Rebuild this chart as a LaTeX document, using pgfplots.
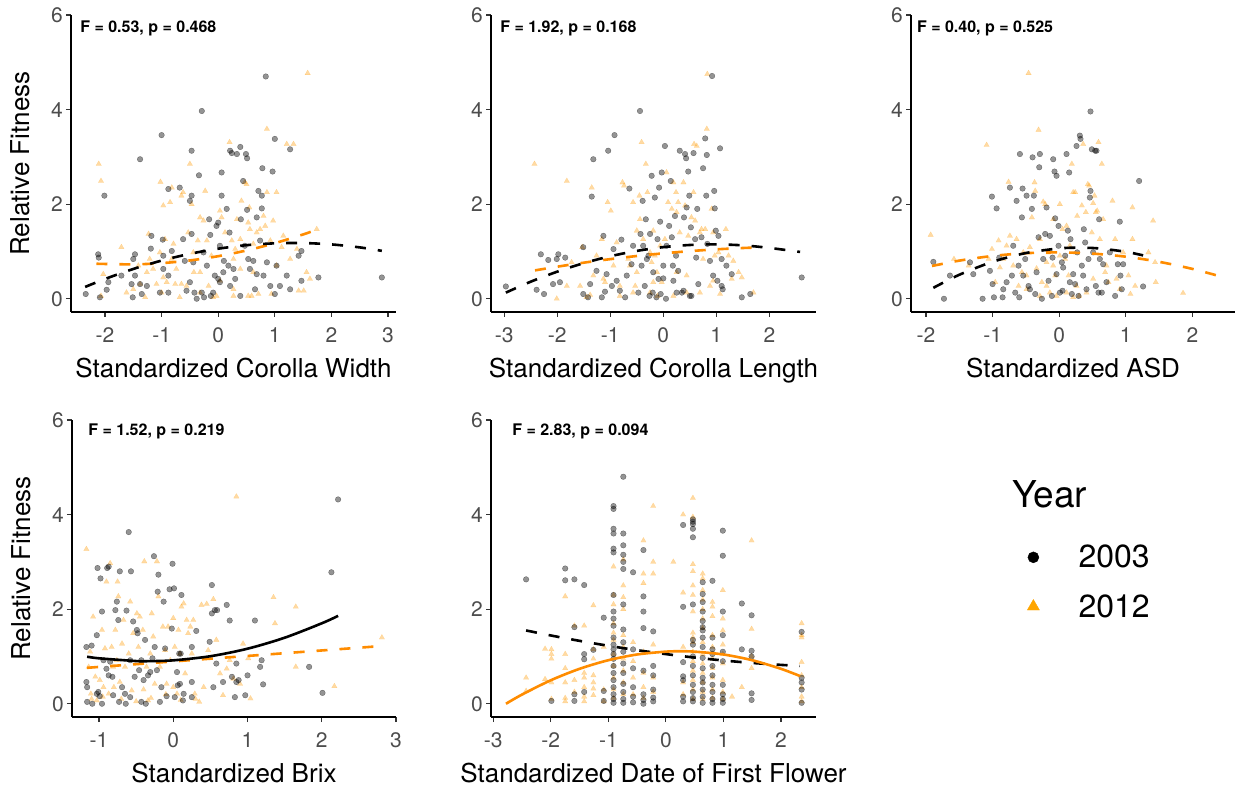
\documentclass[border=0pt]{standalone}
\usepackage{fontspec}
\setmainfont{TeX Gyre Heros}
\usepackage{pgfplots}
\pgfplotsset{compat=1.18}
\definecolor{g30}{RGB}{77,77,77}
\definecolor{org}{RGB}{255,153,0}
\definecolor{orl}{RGB}{255,140,0}
\definecolor{orleg}{RGB}{255,165,0}
\newcommand{\ticksize}{\fontsize{21}{21}\selectfont}
\newcommand{\labsize}{\fontsize{26}{26}\selectfont}
\newcommand{\annsize}{\fontsize{16}{16}\selectfont\bfseries}
\pgfplotsset{
  panel/.style={
    scale only axis, width=325pt, height=297pt, clip mode=individual,
    axis x line*=bottom, axis y line*=left,
    axis line style={line width=1.6pt, black, -},
    ymin=-0.28, ymax=6, ytick={0,2,4,6}, yticklabels={0,2,4,6},
    tick align=outside, major tick length=5pt,
    every tick/.style={line width=1.2pt, black!80},
    ticklabel style={font=\ticksize, text=g30},
    yticklabel style={inner sep=0pt, xshift=-3pt},
    xticklabel style={inner sep=0pt, yshift=-10pt},
    label style={font=\labsize},
    xlabel style={at={(axis description cs:0.5,-0.222)}, anchor=base, inner sep=0pt},
    ylabel style={at={(axis description cs:-0.129,0.5)}, anchor=base, inner sep=0pt},
  },
  b03/.style={only marks, mark=*, mark size=2.8pt, mark options={fill=black, draw=black, fill opacity=0.42, draw opacity=0.5, line width=0.3pt}, forget plot},
  o12/.style={only marks, color=org, mark=triangle*, mark size=3.2pt, mark options={fill=org, draw=org, fill opacity=0.36, draw opacity=0.36, line width=0.1pt}, forget plot},
  bdash/.style={no marks, smooth, black, line width=2.6pt, dash pattern=on 11pt off 12pt, forget plot},
  odash/.style={no marks, smooth, orl, line width=2.6pt, dash pattern=on 11pt off 12pt, forget plot},
  bsolid/.style={no marks, smooth, black, line width=2.6pt, forget plot},
  osolid/.style={no marks, smooth, orl, line width=2.6pt, forget plot},
}
\begin{document}
\begin{tikzpicture}
\path[use as bounding box] (0,0) rectangle (1242pt,790pt);
% ---------------- Panel 1
\begin{axis}[panel, at={(71pt,478pt)}, anchor=south west,
  xmin=-2.60, xmax=3.14, xtick={-2,-1,0,1,2,3}, xticklabels={-2,-1,0,1,2,3},
  xlabel={Standardized Corolla Width}, ylabel={Relative Fitness}]
\addplot[o12] coordinates {(-2.11,2.85)(-2.07,2.49)(-2.07,0.06)(-2.03,0.52)(-1.71,1.09)(-1.62,0.13)(-1.50,0.20)(-1.41,0.70)(-1.38,0.31)(-1.29,0.03)(-1.23,1.37)(-1.21,0.84)(-1.15,0.63)(-1.09,0.31)(-1.02,2.47)(-1.00,0.13)(-0.97,1.97)(-0.94,1.26)(-0.91,0.35)(-0.85,2.04)(-0.82,2.35)(-0.79,1.16)(-0.76,0.31)(-0.74,0.63)(-0.68,0.03)(-0.65,2.18)(-0.62,2.25)(-0.53,1.40)(-0.50,2.85)(-0.47,2.00)(-0.44,0.98)(-0.43,0.56)(-0.36,1.23)(-0.32,1.72)(-0.26,1.65)(-0.23,2.28)(-0.20,1.23)(-0.17,0.27)(-0.12,0.91)(-0.09,0.03)(0.03,1.86)(0.06,1.72)(0.12,1.40)(0.20,3.31)(0.24,1.23)(0.27,0.20)(0.30,1.05)(0.33,1.68)(0.39,0.63)(0.41,2.07)(0.47,2.46)(0.50,2.42)(0.53,1.61)(0.55,1.93)(0.56,1.47)(0.59,0.06)(0.62,1.16)(0.68,1.40)(0.71,0.10)(0.74,1.47)(0.80,1.75)(0.83,1.54)(0.86,3.59)(0.86,2.25)(0.92,1.23)(0.94,0.10)(0.97,1.65)(1.03,2.25)(1.03,0.70)(1.12,1.09)(1.15,1.33)(1.21,3.27)(1.27,0.84)(1.33,3.27)(1.39,1.05)(1.42,0.17)(1.51,0.17)(1.56,0.56)(1.58,4.77)(1.62,0.42)(1.74,1.47)(-1.26,0.56)(-1.03,0.98)(-0.82,0.84)(-0.56,0.27)(-0.32,0.13)(-0.03,0.06)(0.27,0.06)(0.53,0.06)(0.03,0.38)(-0.32,0.56)(0.27,0.84)(0.62,0.56)(0.39,1.26)(-0.97,0.45)(-0.65,0.31)};
\addplot[b03] coordinates {(-2.34,0.10)(-2.12,0.94)(-2.11,0.87)(-2.01,2.18)(-2.09,0.03)(-1.97,0.19)(-1.94,0.35)(-1.71,0.49)(-1.53,0.31)(-1.51,0.03)(-1.47,0.94)(-1.50,0.84)(-1.38,2.95)(-1.47,0.49)(-1.38,0.31)(-1.35,0.10)(-1.26,0.27)(-1.19,1.06)(-1.18,1.33)(-1.00,3.46)(-0.98,1.25)(-0.97,0.91)(-1.03,0.13)(-0.97,0.63)(-0.88,0.49)(-0.88,2.32)(-0.88,0.13)(-0.82,1.01)(-0.68,2.35)(-0.62,1.26)(-0.59,0.80)(-0.56,0.17)(-0.50,0.35)(-0.50,2.07)(-0.47,2.18)(-0.47,3.13)(-0.47,1.37)(-0.44,0.77)(-0.42,0.13)(-0.38,0.00)(-0.34,2.61)(-0.29,3.97)(-0.29,0.13)(-0.26,0.98)(-0.25,0.03)(-0.20,0.70)(-0.16,1.68)(-0.14,1.35)(-0.13,0.06)(-0.09,0.13)(-0.06,0.49)(-0.03,1.54)(0.00,1.61)(0.00,0.42)(0.03,0.35)(0.03,1.12)(0.06,2.67)(0.06,2.18)(0.09,0.56)(0.10,0.80)(0.15,1.90)(0.18,0.70)(0.20,1.40)(0.21,0.27)(0.21,3.13)(0.24,3.08)(0.27,0.63)(0.30,0.42)(0.33,3.06)(0.39,3.21)(0.40,1.68)(0.39,0.06)(0.44,2.49)(0.47,1.12)(0.49,3.06)(0.51,2.97)(0.51,1.88)(0.53,0.84)(0.56,0.63)(0.62,0.80)(0.65,0.20)(0.68,1.72)(0.68,0.52)(0.71,2.28)(0.74,1.23)(0.77,1.91)(0.77,2.18)(0.78,2.76)(0.84,4.70)(0.80,0.49)(0.86,0.77)(0.92,0.27)(0.96,2.69)(1.00,3.38)(1.00,0.10)(1.03,0.70)(1.09,0.27)(1.27,0.20)(1.21,0.49)(1.27,3.16)(1.42,0.91)(1.47,1.01)(1.47,0.38)(1.77,0.45)(2.89,0.45)};
\addplot[odash] coordinates {(-2.15,0.740)(-1.5,0.727)(-1.0,0.753)(-0.5,0.810)(0,0.900)(0.5,1.021)(1.0,1.175)(1.5,1.360)(1.74,1.460)};
\addplot[bdash] coordinates {(-2.35,0.25)(-2.0,0.418)(-1.5,0.630)(-1.0,0.807)(-0.5,0.950)(0,1.058)(0.5,1.133)(1.0,1.172)(1.5,1.178)(2.0,1.149)(2.5,1.086)(2.89,1.013)};
\node[anchor=west, inner sep=0pt, font=\annsize] at (axis description cs:0.028,0.955) {F = 0.53, p = 0.468};
\end{axis}
% ---------------- Panel 2
\begin{axis}[panel, at={(491pt,478pt)}, anchor=south west,
  xmin=-3.25, xmax=2.88, xtick={-3,-2,-1,0,1,2}, xticklabels={-3,-2,-1,0,1,2},
  xlabel={Standardized Corolla Length}]
\addplot[o12] coordinates {(-2.43,2.85)(-2.01,0.00)(-1.82,2.49)(-1.82,0.27)(-1.73,0.77)(-1.57,0.27)(-1.53,1.09)(-1.45,0.03)(-1.38,0.08)(-1.35,2.35)(-1.32,0.49)(-1.26,0.91)(-1.16,1.26)(-1.10,0.35)(-1.05,2.04)(-0.99,1.86)(-0.94,0.70)(-0.88,1.19)(-0.82,0.06)(-0.77,2.46)(-0.74,2.39)(-0.66,0.84)(-0.63,0.70)(-0.57,2.04)(-0.53,0.27)(-0.50,1.44)(-0.45,2.18)(-0.44,1.68)(-0.41,3.31)(-0.38,1.26)(-0.33,2.85)(-0.30,2.25)(-0.25,0.98)(-0.22,0.77)(-0.19,1.44)(-0.16,0.91)(-0.11,0.06)(-0.06,1.12)(-0.03,0.35)(0.03,1.26)(0.06,2.67)(0.09,2.04)(0.16,1.90)(0.19,2.46)(0.24,2.25)(0.25,1.83)(0.28,2.04)(0.31,1.40)(0.38,2.46)(0.41,1.97)(0.44,0.49)(0.47,1.33)(0.53,1.72)(0.57,2.25)(0.58,3.27)(0.60,1.65)(0.63,3.23)(0.69,1.40)(0.72,1.47)(0.75,0.84)(0.79,1.47)(0.82,3.59)(0.83,4.75)(0.88,0.27)(0.91,1.90)(0.94,1.40)(0.97,0.91)(1.04,0.98)(1.07,0.10)(1.18,1.47)(1.23,0.91)(1.29,0.42)(1.32,0.80)(1.42,0.56)(1.48,0.45)(1.70,0.13)(-0.82,0.27)(-0.57,0.13)(-0.25,0.13)(0.19,0.06)(0.44,0.13)(0.69,0.13)(0.94,0.38)(-0.50,0.56)(-0.12,0.56)(0.25,0.56)(-1.13,0.42)(-0.19,0.35)};
\addplot[b03] coordinates {(-2.97,0.26)(-2.39,0.19)(-2.31,0.94)(-2.25,0.10)(-2.17,0.82)(-2.08,0.31)(-2.01,0.84)(-1.98,0.94)(-1.95,0.35)(-1.85,0.87)(-1.51,1.09)(-1.51,0.10)(-1.42,0.03)(-1.38,0.31)(-1.35,2.16)(-1.32,2.95)(-1.26,0.59)(-1.16,0.03)(-1.13,1.33)(-1.10,0.15)(-1.07,0.52)(-1.04,3.13)(-0.97,0.27)(-0.94,1.05)(-0.92,3.46)(-0.88,0.38)(-0.82,0.17)(-0.79,1.25)(-0.72,0.03)(-0.69,0.49)(-0.64,2.33)(-0.60,0.73)(-0.57,1.12)(-0.47,0.13)(-0.44,3.97)(-0.43,1.37)(-0.41,0.70)(-0.39,2.07)(-0.38,1.12)(-0.35,0.27)(-0.33,1.68)(-0.31,0.84)(-0.28,0.91)(-0.26,0.06)(-0.25,1.37)(-0.22,2.60)(-0.20,0.13)(-0.19,0.56)(-0.16,2.14)(-0.13,0.03)(-0.11,1.26)(-0.09,0.42)(-0.08,2.35)(-0.06,1.63)(-0.05,0.10)(-0.03,2.67)(0.00,0.70)(0.00,0.43)(0.03,3.23)(0.05,0.00)(0.06,1.12)(0.11,1.54)(0.14,2.49)(0.16,1.30)(0.18,0.70)(0.19,0.38)(0.22,1.75)(0.24,0.91)(0.25,0.13)(0.28,0.59)(0.31,3.13)(0.35,0.13)(0.38,0.17)(0.39,1.72)(0.41,3.06)(0.43,2.97)(0.44,1.93)(0.47,2.69)(0.49,2.18)(0.50,0.06)(0.52,1.51)(0.53,0.06)(0.57,3.08)(0.60,1.26)(0.62,0.87)(0.64,1.90)(0.66,0.31)(0.72,1.30)(0.75,2.76)(0.79,3.39)(0.81,2.18)(0.82,3.04)(0.83,1.16)(0.88,0.80)(0.92,4.71)(0.94,0.49)(0.96,2.28)(0.97,1.91)(0.99,1.44)(1.02,0.38)(1.04,1.33)(1.07,3.18)(1.10,0.84)(1.10,0.27)(1.12,0.20)(1.19,0.70)(1.29,0.52)(1.48,0.03)(1.64,0.10)(2.61,0.45)};
\addplot[odash] coordinates {(-2.42,0.600)(-2.0,0.678)(-1.5,0.763)(-1.0,0.838)(-0.5,0.904)(0,0.960)(0.5,1.007)(1.0,1.045)(1.5,1.073)(1.67,1.080)};
\addplot[bdash] coordinates {(-2.97,0.130)(-2.5,0.361)(-2.0,0.573)(-1.5,0.753)(-1.0,0.899)(-0.5,1.012)(0,1.091)(0.5,1.137)(1.0,1.150)(1.5,1.129)(2.0,1.075)(2.58,0.990)};
\node[anchor=west, inner sep=0pt, font=\annsize] at (axis description cs:0.028,0.955) {F = 1.92, p = 0.168};
\end{axis}
% ---------------- Panel 3
\begin{axis}[panel, at={(911pt,478pt)}, anchor=south west, width=324pt,
  xmin=-2.225, xmax=2.64, xtick={-2,-1,0,1,2}, xticklabels={-2,-1,0,1,2},
  xlabel={Standardized ASD}]
\addplot[o12] coordinates {(-1.93,1.35)(-1.58,0.84)(-1.36,0.70)(-1.09,3.25)(-1.06,0.84)(-1.01,1.05)(-0.96,0.35)(-0.91,1.23)(-0.89,0.66)(-0.84,0.84)(-0.79,1.12)(-0.76,2.47)(-0.74,1.33)(-0.69,0.70)(-0.64,1.26)(-0.61,0.27)(-0.56,0.56)(-0.54,0.98)(-0.49,0.20)(-0.46,4.77)(-0.44,1.09)(-0.41,1.72)(-0.37,2.46)(-0.36,2.28)(-0.34,0.64)(-0.31,3.57)(-0.29,1.26)(-0.26,0.35)(-0.24,2.05)(-0.21,2.00)(-0.19,0.77)(-0.16,0.98)(-0.14,0.13)(-0.09,1.68)(-0.06,0.49)(-0.04,0.06)(0.01,2.00)(0.05,1.47)(0.09,0.84)(0.11,1.54)(0.14,0.49)(0.16,1.12)(0.19,2.85)(0.21,2.25)(0.24,2.25)(0.26,0.27)(0.27,1.75)(0.30,0.06)(0.34,1.97)(0.36,3.27)(0.40,1.83)(0.43,2.42)(0.45,2.39)(0.49,1.40)(0.51,2.02)(0.53,2.18)(0.55,1.83)(0.57,1.86)(0.59,3.31)(0.61,1.26)(0.64,2.85)(0.66,1.68)(0.69,0.56)(0.74,0.35)(0.80,2.07)(0.84,1.26)(0.86,0.42)(0.91,0.20)(0.96,0.98)(1.04,0.49)(1.07,0.10)(1.10,1.93)(1.10,1.26)(1.14,0.27)(1.34,0.98)(1.41,1.65)(1.44,0.77)(1.45,0.35)(1.86,0.12)(-0.49,0.49)(-0.19,0.27)(0.11,0.13)(0.21,0.03)(0.41,0.13)(0.51,0.42)(0.71,0.70)(-0.09,0.70)(-0.29,0.06)(0.01,0.91)};
\addplot[b03] coordinates {(-1.89,0.78)(-1.73,0.00)(-1.64,0.49)(-1.34,0.77)(-1.29,0.52)(-1.15,0.00)(-1.04,0.59)(-1.01,2.16)(-1.00,0.31)(-0.98,0.03)(-0.94,1.91)(-0.90,0.87)(-0.85,0.03)(-0.84,0.20)(-0.79,0.35)(-0.74,2.35)(-0.71,0.49)(-0.69,1.12)(-0.66,0.13)(-0.64,2.07)(-0.61,0.70)(-0.60,0.03)(-0.59,3.06)(-0.56,1.72)(-0.55,2.33)(-0.54,0.49)(-0.51,0.84)(-0.49,2.18)(-0.46,0.27)(-0.44,0.20)(-0.41,1.90)(-0.40,2.99)(-0.38,2.18)(-0.36,0.10)(-0.34,0.56)(-0.31,1.30)(-0.30,2.78)(-0.29,3.06)(-0.26,0.00)(-0.24,0.84)(-0.21,1.37)(-0.19,1.93)(-0.16,0.38)(-0.14,1.33)(-0.11,0.06)(-0.10,0.87)(-0.09,2.95)(-0.07,2.69)(-0.06,1.70)(-0.04,2.60)(-0.04,0.52)(-0.01,1.12)(-0.01,1.54)(0.01,0.13)(0.04,0.77)(0.05,0.17)(0.06,0.66)(0.09,0.91)(0.11,3.06)(0.13,1.44)(0.15,2.67)(0.16,0.35)(0.17,1.26)(0.19,0.10)(0.21,0.52)(0.24,0.31)(0.26,3.23)(0.27,0.98)(0.29,0.06)(0.31,3.45)(0.32,3.38)(0.34,0.70)(0.36,0.49)(0.37,1.47)(0.39,1.19)(0.41,0.20)(0.44,0.84)(0.46,2.14)(0.47,2.28)(0.47,3.96)(0.49,3.16)(0.51,0.98)(0.54,3.13)(0.55,0.27)(0.56,3.13)(0.59,0.13)(0.60,1.68)(0.61,0.84)(0.64,0.13)(0.66,0.73)(0.71,0.35)(0.76,0.98)(0.84,0.06)(0.88,0.73)(0.91,1.63)(0.92,0.49)(0.94,0.20)(0.96,0.73)(1.20,2.49)(1.26,0.26)};
\addplot[odash] coordinates {(-1.91,0.693)(-1.5,0.806)(-1.0,0.905)(-0.5,0.963)(0,0.980)(0.5,0.955)(1.0,0.889)(1.5,0.781)(2.0,0.631)(2.44,0.465)};
\addplot[bdash] coordinates {(-1.89,0.231)(-1.5,0.507)(-1.0,0.781)(-0.5,0.967)(0,1.064)(0.3,1.080)(0.6,1.064)(1.0,0.993)(1.26,0.917)};
\node[anchor=west, inner sep=0pt, font=\annsize] at (axis description cs:0.018,0.955) {F = 0.40, p = 0.525};
\end{axis}
% ---------------- Panel 4
\begin{axis}[panel, at={(72pt,73pt)}, anchor=south west, width=324pt,
  xmin=-1.364, xmax=3.0, xtick={-1,0,1,2,3}, xticklabels={-1,0,1,2,3},
  xlabel={Standardized Brix}, ylabel={Relative Fitness}]
\addplot[o12] coordinates {(-1.17,3.27)(-1.14,0.78)(-1.12,1.10)(-1.11,0.21)(-1.08,1.84)(-1.05,0.57)(-1.03,0.07)(-0.99,0.50)(-0.96,1.56)(-0.94,0.35)(-0.92,1.17)(-0.90,2.58)(-0.87,0.21)(-0.85,2.97)(-0.83,1.20)(-0.81,0.78)(-0.78,1.56)(-0.76,0.92)(-0.75,2.58)(-0.74,2.27)(-0.72,0.46)(-0.69,1.27)(-0.67,1.77)(-0.65,0.78)(-0.60,1.06)(-0.58,2.16)(-0.56,0.28)(-0.54,1.49)(-0.49,1.91)(-0.47,1.20)(-0.45,1.84)(-0.41,1.56)(-0.39,3.01)(-0.36,0.78)(-0.34,0.07)(-0.31,1.06)(-0.29,1.91)(-0.27,1.42)(-0.25,0.42)(-0.22,3.01)(-0.20,2.27)(-0.18,0.78)(-0.14,1.63)(-0.11,1.13)(-0.09,0.42)(-0.07,1.63)(-0.04,0.92)(0.00,1.81)(0.02,1.20)(0.05,0.21)(0.07,1.56)(0.09,1.06)(0.11,2.05)(0.14,2.12)(0.16,0.64)(0.18,1.77)(0.20,1.49)(0.23,1.63)(0.25,1.06)(0.27,1.77)(0.29,0.21)(0.35,0.04)(0.38,2.09)(0.41,0.35)(0.45,2.11)(0.47,1.13)(0.54,2.21)(0.58,1.35)(0.63,0.64)(0.67,0.18)(0.72,0.74)(0.76,0.92)(0.81,0.53)(0.85,4.38)(0.90,0.42)(0.94,1.27)(1.01,0.96)(1.04,0.11)(1.35,2.25)(1.37,1.70)(1.65,2.05)(1.65,0.78)(2.17,0.37)(2.81,1.40)(-1.10,0.10)(-0.95,0.15)(-0.70,0.10)(-0.50,0.05)(-0.30,0.12)(-0.10,0.20)(0.10,0.08)(0.30,0.10)(-0.80,0.35)(-0.40,0.30)(0.00,0.35)};
\addplot[b03] coordinates {(-1.17,1.20)(-1.17,0.46)(-1.16,0.35)(-1.16,0.04)(-1.10,1.23)(-1.09,0.00)(-1.03,1.45)(-1.03,0.21)(-1.02,2.87)(-1.01,0.25)(-0.99,0.16)(-0.98,2.65)(-0.96,0.00)(-0.96,1.95)(-0.94,0.92)(-0.90,0.74)(-0.89,2.87)(-0.87,2.90)(-0.87,0.60)(-0.85,0.89)(-0.82,0.57)(-0.81,0.18)(-0.78,1.98)(-0.76,2.16)(-0.74,1.77)(-0.73,0.04)(-0.72,2.80)(-0.69,0.35)(-0.65,0.21)(-0.64,0.00)(-0.63,1.97)(-0.60,3.63)(-0.58,0.14)(-0.58,0.92)(-0.57,2.80)(-0.54,1.74)(-0.52,0.57)(-0.49,1.56)(-0.48,1.49)(-0.46,0.71)(-0.43,0.04)(-0.43,0.92)(-0.40,0.50)(-0.38,1.35)(-0.37,0.00)(-0.34,0.60)(-0.31,0.67)(-0.28,0.96)(-0.26,3.12)(-0.25,1.20)(-0.22,0.71)(-0.21,2.37)(-0.20,2.73)(-0.18,0.04)(-0.16,0.35)(-0.13,2.16)(-0.11,1.17)(-0.09,0.16)(-0.05,2.42)(-0.02,1.59)(-0.01,2.96)(0.01,2.44)(0.02,0.14)(0.05,0.67)(0.06,0.39)(0.08,1.06)(0.09,0.42)(0.10,1.06)(0.11,2.30)(0.13,0.07)(0.14,0.21)(0.25,0.14)(0.25,1.20)(0.25,0.46)(0.31,1.54)(0.49,1.31)(0.52,2.51)(0.52,1.91)(0.54,0.35)(0.56,1.98)(0.58,0.85)(0.59,1.98)(0.67,0.46)(0.72,2.09)(0.76,1.76)(0.79,0.57)(0.83,0.14)(0.85,0.85)(0.85,0.46)(0.88,0.50)(0.97,0.18)(1.00,0.60)(1.10,1.76)(1.17,0.78)(1.19,0.92)(1.21,0.41)(1.83,0.78)(2.01,0.23)(2.13,2.78)(2.22,4.32)};
\addplot[odash] coordinates {(-1.16,0.760)(-0.5,0.837)(0,0.895)(0.5,0.953)(1.0,1.011)(1.5,1.069)(2.0,1.127)(2.5,1.185)(2.80,1.220)};
\addplot[bsolid] coordinates {(-1.16,0.995)(-1.0,0.961)(-0.5,0.903)(-0.35,0.900)(0,0.918)(0.5,1.005)(1.0,1.164)(1.5,1.396)(2.0,1.701)(2.22,1.858)};
\node[anchor=west, inner sep=0pt, font=\annsize] at (axis description cs:0.05,0.96) {F = 1.52, p = 0.219};
\end{axis}
% ---------------- Panel 5
\begin{axis}[panel, at={(491pt,73pt)}, anchor=south west,
  xmin=-3.04, xmax=2.61, xtick={-3,-2,-1,0,1,2}, xticklabels={-3,-2,-1,0,1,2},
  xlabel={Standardized Date of First Flower},
  legend style={at={(axis description cs:1.603,0.579)}, anchor=north west, draw=none, fill=none,
    font=\fontsize{32}{32}\selectfont, row sep=25pt, inner sep=0pt,
    nodes={inner sep=0pt}},
  legend cell align=left,
  legend image code/.code={\path (0pt,-6pt) (66pt,6pt); \draw[#1] plot coordinates {(21pt,0pt)};}]
\addplot[o12] coordinates {(-2.43,0.55)(-2.43,0.27)(-2.10,1.16)(-2.10,0.52)
(-1.99,1.15)(-1.99,1.05)(-1.99,0.95)(-1.99,0.45)(-1.99,0.10)
(-1.75,2.27)(-1.75,1.05)(-1.75,0.75)(-1.75,0.45)(-1.75,0.12)(-1.75,0.05)
(-1.59,1.65)(-1.59,0.50)(-1.59,0.25)
(-1.42,1.65)(-1.42,0.65)(-1.42,0.55)(-1.42,0.35)(-1.42,0.15)(-1.42,0.05)
(-1.26,2.08)(-1.26,1.15)(-1.26,0.95)(-1.26,0.60)(-1.26,0.45)(-1.26,0.32)(-1.26,0.18)
(-1.08,1.20)(-1.08,0.30)(-1.08,0.05)
(-0.91,2.90)(-0.91,2.30)(-0.91,2.10)(-0.91,1.70)(-0.91,1.50)(-0.91,1.35)(-0.91,1.05)(-0.91,0.80)(-0.91,0.55)(-0.91,0.30)(-0.91,0.12)
(-0.74,3.05)(-0.74,2.50)(-0.74,2.25)(-0.74,2.00)(-0.74,1.45)(-0.74,1.20)(-0.74,0.95)(-0.74,0.70)(-0.74,0.45)(-0.74,0.20)
(-0.57,1.30)(-0.57,0.90)(-0.57,0.55)(-0.57,0.20)
(-0.39,3.45)(-0.39,2.75)(-0.39,2.55)(-0.39,1.10)(-0.39,0.65)(-0.39,0.35)(-0.39,0.12)
(-0.22,4.18)(-0.22,3.00)(-0.22,2.75)(-0.22,1.25)(-0.22,0.55)(-0.22,0.25)
(0.13,3.00)
(0.30,4.00)(0.30,2.35)(0.30,1.20)(0.30,0.45)(0.30,0.20)
(0.47,4.35)(0.47,3.95)(0.47,2.95)(0.47,2.80)(0.47,2.50)(0.47,2.30)(0.47,1.95)(0.47,1.50)(0.47,1.40)(0.47,1.30)(0.47,1.10)(0.47,0.90)(0.47,0.70)(0.47,0.50)(0.47,0.30)(0.47,0.10)
(0.64,2.75)(0.64,2.65)(0.64,2.40)(0.64,2.20)(0.64,2.00)(0.64,1.80)(0.64,1.60)(0.64,1.30)(0.64,1.05)(0.64,0.85)(0.64,0.65)(0.64,0.45)(0.64,0.25)(0.64,0.10)
(0.81,2.15)(0.81,2.05)(0.81,1.85)(0.81,1.45)(0.81,1.20)(0.81,0.95)(0.81,0.75)(0.81,0.55)(0.81,0.30)(0.81,0.12)
(0.99,2.40)(0.99,1.80)(0.99,1.55)(0.99,1.25)(0.99,1.05)(0.99,0.85)(0.99,0.50)(0.99,0.25)(0.99,0.10)
(1.15,0.15)(1.32,0.35)
(1.49,3.45)(1.49,1.58)(1.49,1.00)(1.49,0.75)
(2.36,1.70)(2.36,1.45)(2.36,1.40)(2.36,0.88)(2.36,0.60)(2.36,0.35)(2.36,0.15)(2.36,0.05)};
\addplot[b03] coordinates {(-2.43,2.63)(-1.99,0.06)(-1.75,2.86)(-1.75,2.61)
(-1.59,2.63)(-1.59,1.62)(-1.59,0.20)(-1.59,0.06)
(-1.42,2.51)(-1.42,1.05)(-1.42,0.94)(-1.42,0.25)
(-1.26,1.14)(-1.08,1.82)(-1.08,0.27)(-1.08,0.06)
(-0.91,4.18)(-0.91,4.12)(-0.91,3.70)(-0.91,3.60)(-0.91,3.28)(-0.91,3.20)(-0.91,2.30)(-0.91,1.95)(-0.91,1.80)(-0.91,1.65)(-0.91,1.40)(-0.91,1.25)(-0.91,1.15)(-0.91,1.05)(-0.91,0.95)(-0.91,0.80)(-0.91,0.65)(-0.91,0.50)(-0.91,0.35)(-0.91,0.20)(-0.91,0.10)(-0.91,0.02)
(-0.74,4.80)(-0.74,3.60)(-0.74,3.35)(-0.74,3.15)(-0.74,3.00)(-0.74,2.85)(-0.74,2.10)(-0.74,1.57)(-0.74,1.30)(-0.74,1.10)(-0.74,0.85)(-0.74,0.65)(-0.74,0.42)(-0.74,0.25)(-0.74,0.10)(-0.74,0.02)
(-0.57,2.78)(-0.57,1.15)(-0.57,0.75)(-0.57,0.35)(-0.57,0.15)(-0.57,0.03)
(-0.39,3.25)(-0.39,2.27)(-0.39,1.95)(-0.39,1.60)(-0.39,0.70)(-0.39,0.20)(-0.39,0.08)(-0.39,0.00)
(-0.22,1.53)(-0.22,0.80)(-0.22,0.60)(-0.22,0.30)(-0.22,0.13)(-0.22,0.05)
(0.30,3.78)(0.30,2.05)(0.30,0.88)(0.30,0.58)(0.30,0.50)(0.30,0.15)(0.30,0.05)
(0.47,3.90)(0.47,3.85)(0.47,3.80)(0.47,3.70)(0.47,3.52)(0.47,2.10)(0.47,1.35)(0.47,1.25)(0.47,1.00)(0.47,0.80)(0.47,0.60)(0.47,0.40)(0.47,0.25)(0.47,0.12)(0.47,0.05)
(0.64,2.57)(0.64,2.32)(0.64,2.15)(0.64,1.95)(0.64,1.75)(0.64,1.62)(0.64,1.55)(0.64,1.40)(0.64,1.20)(0.64,0.97)(0.64,0.75)(0.64,0.55)(0.64,0.45)(0.64,0.30)(0.64,0.15)(0.64,0.02)
(0.81,2.60)(0.81,1.40)(0.81,1.15)(0.81,1.05)(0.81,0.80)(0.81,0.60)(0.81,0.40)(0.81,0.25)(0.81,0.10)(0.81,0.02)
(0.99,3.66)(0.99,3.13)(0.99,1.95)(0.99,1.45)(0.99,1.10)(0.99,0.90)(0.99,0.40)(0.99,0.20)(0.99,0.10)(0.99,0.02)
(1.32,2.12)(1.32,1.15)
(1.49,1.87)(1.49,1.12)(1.49,1.00)(1.49,0.22)(1.49,0.08)
(2.36,1.52)(2.36,0.55)(2.36,0.45)(2.36,0.30)(2.36,0.02)};
\addplot[bdash] coordinates {(-2.43,1.550)(-2.0,1.444)(-1.5,1.330)(-1.0,1.226)(-0.5,1.133)(0,1.050)(0.5,0.977)(1.0,0.915)(1.5,0.863)(2.0,0.822)(2.33,0.800)};
\addplot[osolid] coordinates {(-2.78,0.0)(-2.5,0.195)(-2.0,0.497)(-1.5,0.739)(-1.0,0.921)(-0.5,1.042)(0,1.102)(0.25,1.110)(0.5,1.102)(1.0,1.042)(1.5,0.921)(2.0,0.739)(2.33,0.587)};
\node[anchor=west, inner sep=0pt, font=\annsize] at (axis description cs:0.065,0.96) {F = 2.83, p = 0.094};
\node[anchor=base west, inner sep=0pt, font=\fontsize{37}{37}\selectfont] at (axis description cs:1.603,0.706) {Year};
\addlegendimage{only marks, mark=*, mark size=5.5pt, black}
\addlegendentry{2003}
\addlegendimage{only marks, mark=triangle*, mark size=7pt, orleg, draw=orleg}
\addlegendentry{2012}
\end{axis}
\end{tikzpicture}
\end{document}
